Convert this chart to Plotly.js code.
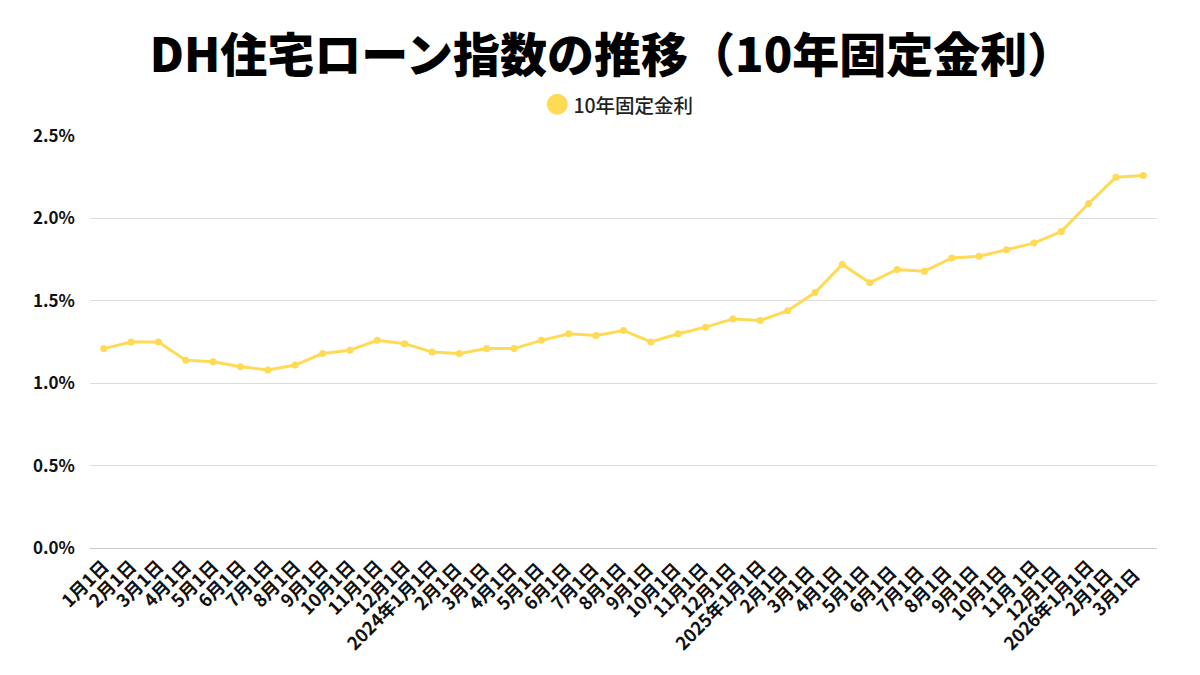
<!DOCTYPE html>
<html>
<head>
<meta charset="utf-8">
<script src="https://cdn.plot.ly/plotly-3.0.1.min.js"></script>
<style>html,body{margin:0;padding:0;background:#fff;}#chart{width:1200px;height:675px;}</style>
</head>
<body>
<div id="chart"></div>
<script>
const seriesName = "10年固定金利";
const dateLabels = [
  "1月1日","2月1日","3月1日","4月1日","5月1日","6月1日","7月1日","8月1日","9月1日","10月1日","11月1日","12月1日",
  "2024年1月1日","2月1日 ","3月1日 ","4月1日 ","5月1日 ","6月1日 ","7月1日 ","8月1日 ","9月1日 ","10月1日 ","11月1日 ","12月1日 ",
  "2025年1月1日","2月1日  ","3月1日  ","4月1日  ","5月1日  ","6月1日  ","7月1日  ","8月1日  ","9月1日  ","10月1日  ","11月 1日","12月1日  ",
  "2026年1月1日","2月1日   ","3月1日   "
];
const rateValues = [
  1.21,1.25,1.25,1.14,1.13,1.10,1.08,1.11,1.18,1.20,1.26,1.24,
  1.19,1.18,1.21,1.21,1.26,1.30,1.29,1.32,1.25,1.30,1.34,1.39,
  1.38,1.44,1.55,1.72,1.61,1.69,1.68,1.76,1.77,1.81,1.85,1.92,
  2.09,2.25,2.26
];
const yTicks = [0,0.5,1.0,1.5,2.0,2.5];
const yTickText = ["0.0%","0.5%","1.0%","1.5%","2.0%","2.5%"];

const lineColor = "#FFDA55";
const font = "'Noto Sans CJK JP','Noto Sans',sans-serif";
const trace = {
  type: "scatter", mode: "lines+markers", name: seriesName, showlegend: false,
  x: dateLabels, y: rateValues,
  line: {color: lineColor, width: 3},
  marker: {color: lineColor, size: 7}
};
const layout = {
  width: 1200, height: 675,
  margin: {l: 90, r: 43, t: 136, b: 127},
  paper_bgcolor: "#fff", plot_bgcolor: "#fff",
  title: {text: "DH住宅ローン指数の推移（10年固定金利）", x: 0.51, xanchor: "center", y: 0.917, yanchor: "middle",
          font: {family: font, size: 47, color: "#000", weight: 900}},
  showlegend: false,
  annotations: [{
    xref: "paper", yref: "paper", x: 0.496, y: 1.08, xanchor: "center", yanchor: "middle", showarrow: false,
    text: "<span style='color:" + lineColor + ";font-size:23px'>●</span> " + seriesName,
    font: {family: font, size: 19.5, color: "#222", weight: 500}
  }],
  xaxis: {type: "category", range: [-0.5, 38.5], tickangle: -45, showgrid: false,
          tickfont: {family: font, size: 18, color: "#111", weight: 700},
          showline: true, linecolor: "#c8c8c8", linewidth: 1, ticks: "", automargin: false},
  yaxis: {range: [0, 2.5], tickvals: yTicks, ticktext: yTickText, gridcolor: "#dddddd", gridwidth: 1,
          zeroline: false, showline: false, ticks: "", ticklabelstandoff: 14,
          tickfont: {family: font, size: 17, color: "#111", weight: 700}, automargin: false}
};
Plotly.newPlot("chart", [trace], layout, {displayModeBar: false, staticPlot: true});
</script>
</body>
</html>
